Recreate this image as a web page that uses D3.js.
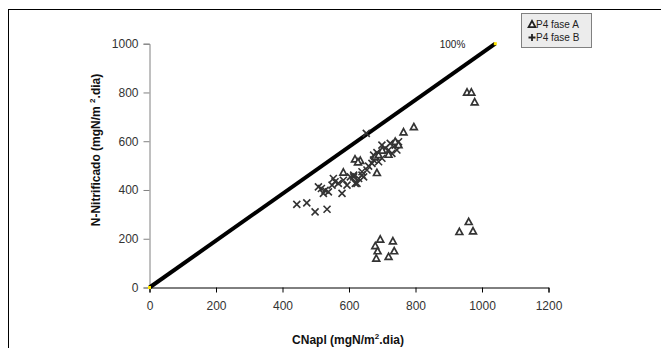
<!DOCTYPE html>
<html>
<head>
<meta charset="utf-8">
<script src="https://cdn.jsdelivr.net/npm/d3@7"></script>
<style>
  body { margin: 0; background: #fff; }
  svg { display: block; font-family: 'Liberation Sans', Arial, sans-serif; }
</style>
</head>
<body>
<div id="chart"></div>
<script>
// P4 fase A (triangles) : [CNapl, N-Nitrificado]
const faseA = [
  [955, 800], [968, 800], [978, 760],
  [795, 658], [764, 637],
  [618, 526], [634, 520], [627, 514], [583, 472], [684, 470],
  [679, 536], [689, 543], [739, 598], [749, 584], [719, 545], [700, 562],
  [694, 197], [732, 190], [679, 170], [686, 149], [736, 149], [682, 119], [719, 126],
  [960, 269], [932, 228], [973, 231]
];

// P4 fase B (crosses)
const faseB = [
  [443, 341], [473, 347], [498, 310], [534, 321],
  [508, 413], [517, 406], [528, 399], [523, 386], [538, 392], [549, 420],
  [553, 447], [558, 434], [568, 427], [579, 386], [583, 440], [594, 420],
  [604, 454], [614, 461], [619, 427], [629, 447], [639, 461], [652, 632],
  [674, 543], [684, 553], [699, 584], [709, 571], [719, 564], [724, 591],
  [729, 550], [739, 584], [749, 598], [744, 564], [699, 530], [689, 516],
  [669, 509], [674, 523], [654, 482], [639, 475], [614, 454], [644, 454],
  [624, 427], [659, 498]
];

// 100% line
const line100 = [[0, 0], [1040, 1000]];

const xTicks = [0, 200, 400, 600, 800, 1000, 1200];
const yTicks = [0, 200, 400, 600, 800, 1000];
const seriesNames = ['P4 fase A', 'P4 fase B'];

const W = 661, H = 348;
const svg = d3.select('#chart').append('svg')
  .attr('width', W).attr('height', H);

// outer chart frame
svg.append('rect')
  .attr('x', 8.5).attr('y', 9.5)
  .attr('width', 700).attr('height', 400)
  .attr('fill', 'none').attr('stroke', '#000').attr('stroke-width', 1);

const x = d3.scaleLinear().domain([0, 1200]).range([149.5, 548.5]);
const y = d3.scaleLinear().domain([0, 1000]).range([287.5, 43.7]);

// y axis
const yAxis = svg.append('g')
  .attr('transform', `translate(${x(0)},0)`)
  .call(d3.axisLeft(y).tickValues(yTicks).tickSize(6).tickPadding(5).tickFormat(d3.format('d')));
yAxis.select('.domain').attr('stroke', '#808080');
yAxis.selectAll('.tick line').attr('stroke', '#808080');
yAxis.selectAll('text').attr('font-size', 12).attr('fill', '#333')
  .attr('font-family', "'Liberation Sans', Arial, sans-serif");

// x axis
const xAxis = svg.append('g')
  .attr('transform', `translate(0,${y(0)})`)
  .call(d3.axisBottom(x).tickValues(xTicks).tickSize(5).tickPadding(9).tickFormat(d3.format('d')));
xAxis.select('.domain').attr('stroke', '#000');
xAxis.selectAll('.tick line').attr('stroke', '#000');
xAxis.selectAll('text').attr('font-size', 12).attr('fill', '#333')
  .attr('font-family', "'Liberation Sans', Arial, sans-serif");

// 100% line
svg.append('path')
  .attr('d', d3.line().x(d => x(d[0])).y(d => y(d[1]))(line100))
  .attr('stroke', '#000').attr('stroke-width', 4).attr('fill', 'none');
svg.selectAll('.endpt').data(line100).enter().append('rect')
  .attr('class', 'endpt')
  .attr('x', d => x(d[0]) - 1.5).attr('y', d => y(d[1]) - 1.5)
  .attr('width', 3).attr('height', 3)
  .attr('fill', '#ffe600');

svg.append('text')
  .attr('x', x(line100[1][0]) - 30).attr('y', y(line100[1][1]) + 4)
  .attr('text-anchor', 'end').attr('font-size', 10).attr('fill', '#222')
  .text('100%');

const triPath = 'M0,-3.6L3.4,2.6L-3.4,2.6Z';
const xPath = 'M-3.5,-3.5L3.5,3.5M-3.5,3.5L3.5,-3.5';
const plusPath = 'M-3.5,0L3.5,0M0,-3.5L0,3.5';

// fase B crosses
svg.append('g').selectAll('path')
  .data(faseB).enter().append('path')
  .attr('transform', d => `translate(${x(d[0])},${y(d[1])})`)
  .attr('d', xPath)
  .attr('stroke', '#333').attr('stroke-width', 1.6).attr('fill', 'none');

// fase A triangles
svg.append('g').selectAll('path')
  .data(faseA).enter().append('path')
  .attr('transform', d => `translate(${x(d[0])},${y(d[1])})`)
  .attr('d', triPath)
  .attr('stroke', '#333').attr('stroke-width', 1.7).attr('fill', '#fff');

// axis titles
svg.append('text')
  .attr('x', 348).attr('y', 344)
  .attr('text-anchor', 'middle').attr('font-size', 12).attr('font-weight', 'bold').attr('fill', '#111')
  .call(t => {
    t.append('tspan').text('CNapl (mgN/m');
    t.append('tspan').attr('dy', -5).attr('font-size', 8).text('2');
    t.append('tspan').attr('dy', 5).text('.dia)');
  });

svg.append('text')
  .attr('transform', 'translate(100,150) rotate(-90)')
  .attr('text-anchor', 'middle').attr('font-size', 12).attr('font-weight', 'bold').attr('fill', '#111')
  .call(t => {
    t.append('tspan').text('N-Nitrificado (mgN/m ');
    t.append('tspan').attr('dy', -5).attr('font-size', 8).text('2');
    t.append('tspan').attr('dy', 5).text('.dia)');
  });

// legend
const leg = svg.append('g').attr('transform', 'translate(521.5,13.5)');
leg.append('rect')
  .attr('width', 70).attr('height', 34)
  .attr('fill', '#ececec').attr('stroke', '#808080').attr('stroke-width', 1);
const legItems = leg.selectAll('.li').data(seriesNames).enter().append('g')
  .attr('class', 'li')
  .attr('transform', (d, i) => `translate(10.5,${11 + i * 13})`);
legItems.append('path')
  .attr('d', (d, i) => i === 0 ? triPath : plusPath)
  .attr('stroke', '#222').attr('stroke-width', 1.8)
  .attr('fill', (d, i) => i === 0 ? '#fff' : 'none');
legItems.append('text')
  .attr('x', 4).attr('y', 3.5)
  .attr('font-size', 10).attr('fill', '#222')
  .text(d => d);
</script>
</body>
</html>
